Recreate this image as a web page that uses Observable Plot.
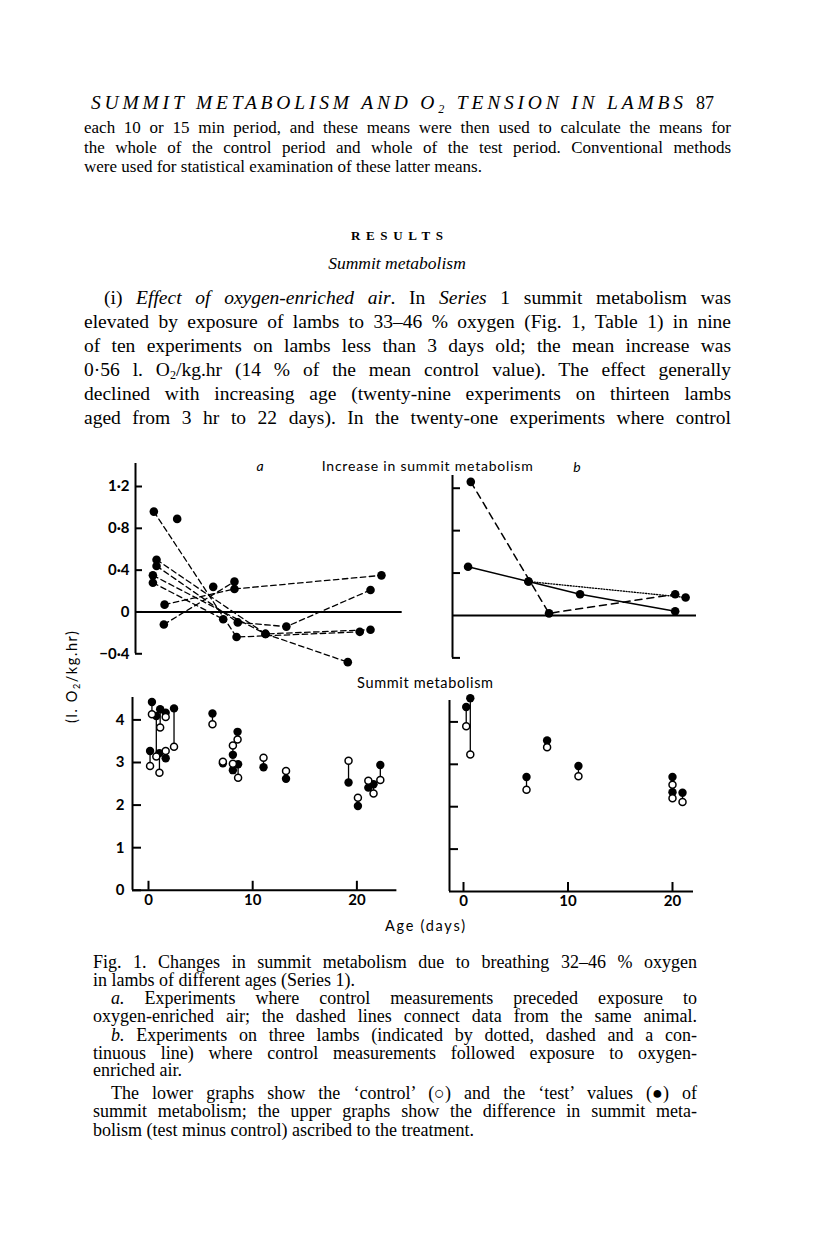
<!DOCTYPE html>
<html><head><meta charset="utf-8">
<script src="https://cdn.jsdelivr.net/npm/d3@7"></script>
<script src="https://cdn.jsdelivr.net/npm/@observablehq/plot@0.6"></script>
<style>
html,body{margin:0;padding:0;background:#fff;}
#page{position:relative;width:816px;height:1255px;overflow:hidden;background:#fff;}
</style></head><body><div id="page"></div>
<script>
// ---------------- DATA ----------------
const ageTicks = [0, 10, 20];
const upperTicks = [1.2, 0.8, 0.4, 0, -0.4];
const upperTickLabels = ["1·2", "0·8", "0·4", "0", "−0·4"];
const lowerTicks = [0, 1, 2, 3, 4];
const lowerTickLabels = ["0", "1", "2", "3", "4"];

// (a) upper: increase in summit metabolism (test − control); dashed lines join one lamb
const incA_lamb = ["A1","A1","A1","A2","A2","A2","A3","A3","A3","A3","A4","A4","A4","A5","A5","A6","A6","A6","A7","A7","A8","A9"];
const incA_age  = [0.48, 8.42, 20.25, 0.74, 11.2, 21.28, 0.74, 8.54, 13.2, 21.28, 0.39, 11.2, 19.1, 0.39, 7.14, 1.51, 8.22, 22.33, 1.44, 8.22, 2.72, 6.18];
const incA_diff = [0.96, -0.24, -0.19, 0.50, -0.21, -0.17, 0.44, -0.10, -0.14, 0.21, 0.35, -0.21, -0.48, 0.28, -0.07, 0.07, 0.22, 0.35, -0.12, 0.29, 0.89, 0.24];

// (b) upper: three lambs (dashed, continuous, dotted)
const incB_lamb = ["dashed","dashed","dashed","continuous","continuous","continuous","continuous","dotted","dotted"];
const incB_age  = [0.64, 8.13, 20.2, 0.38, 6.16, 11.1, 20.2, 6.16, 21.2];
const incB_diff = [1.26, 0.02, 0.20, 0.46, 0.32, 0.20, 0.04, 0.32, 0.17];

// (a) lower: summit metabolism, test (filled) and control (open)
const smA_age     = [0.33, 0.75, 1.12, 1.05, 0.15, 1.65, 1.65, 2.45, 6.14, 7.14, 8.1, 8.1, 8.55, 8.6, 11.04, 13.2, 19.2, 20.1, 21.1, 21.6, 22.25];
const smA_test    = [4.42, 4.09, 4.25, 3.22, 3.27, 4.17, 3.10, 4.27, 4.15, 2.98, 3.18, 2.82, 3.72, 2.96, 2.89, 2.62, 2.53, 1.98, 2.41, 2.49, 2.94];
const smA_control = [4.13, 3.14, 3.82, 2.76, 2.92, 4.07, 3.27, 3.37, 3.90, 3.02, 3.40, 2.97, 3.54, 2.64, 3.11, 2.80, 3.04, 2.17, 2.57, 2.27, 2.59];

// (b) lower
const smB_age     = [0.26, 0.65, 6.03, 8.0, 11.0, 20.0, 20.0, 20.96];
const smB_test    = [4.35, 4.56, 2.70, 3.56, 2.96, 2.70, 2.34, 2.33];
const smB_control = [3.90, 3.23, 2.40, 3.40, 2.72, 2.52, 2.20, 2.11];

// ---------------- TABLES ----------------
const incA = incA_age.map((a, i) => ({age: a, diff: incA_diff[i], lamb: incA_lamb[i]}));
const incB = incB_age.map((a, i) => ({age: a, diff: incB_diff[i], lamb: incB_lamb[i]}));
const smA = smA_age.map((a, i) => ({age: a, test: smA_test[i], control: smA_control[i]}));
const smB = smB_age.map((a, i) => ({age: a, test: smB_test[i], control: smB_control[i]}));

const SERIF = "'Liberation Serif', 'Times New Roman', serif";
const SANS = "Lato, 'Open Sans', sans-serif";
const page = document.getElementById("page");

function panel({fx, fy, xDomain, yDomain, xAxis, marks}) {
  const ml = 50, mr = 12, mt = 12, mb = 30;
  const svg = Plot.plot({
    width: ml + (fx[1] - fx[0]) + mr,
    height: mt + (fy[1] - fy[0]) + mb,
    marginLeft: ml, marginRight: mr, marginTop: mt, marginBottom: mb,
    x: {domain: xDomain, label: null, ...(xAxis ? {} : {axis: null})},
    y: {domain: yDomain, label: null},
    style: {fontFamily: SANS, fontSize: "14px", color: "#000", background: "transparent", overflow: "visible"},
    marks
  });
  svg.style.position = "absolute";
  svg.style.left = (fx[0] - ml) + "px";
  svg.style.top = (fy[0] - mt) + "px";
  page.appendChild(svg);
}

const upFmt = d => upperTickLabels[upperTicks.indexOf(d)];
const loFmt = d => lowerTickLabels[lowerTicks.indexOf(d)];
const tickFont = {fontSize: 15, fontWeight: 700};

// upper a
const dA = [-1.28, 24.32];
panel({
  fx: [135, 401.7], fy: [463, 653.3], xDomain: dA, yDomain: [-0.4, 1.42],
  marks: [
    Plot.axisY(upperTicks, {tickSize: -7, tickPadding: 13, tickFormat: upFmt, ...tickFont, label: null, strokeWidth: 2}),
    Plot.ruleX([dA[0]], {stroke: "black", strokeWidth: 2}),
    Plot.ruleY([0], {stroke: "black", strokeWidth: 2}),
    Plot.line(incA, {x: "age", y: "diff", z: "lamb", stroke: "black", strokeWidth: 1.3, strokeDasharray: "5.5,3.5"}),
    Plot.dot(incA, {x: "age", y: "diff", r: 4.3, fill: "black"})
  ]
});

// upper b
const dB = [-1.11, 22.24];
panel({
  fx: [451.7, 695.7], fy: [475, 657.4], xDomain: dB, yDomain: [-0.4, 1.32],
  marks: [
    Plot.axisY(upperTicks.filter(d => d !== 0), {tickSize: -8, tickFormat: () => "", label: null, strokeWidth: 2}),
    Plot.ruleX([dB[0]], {stroke: "black", strokeWidth: 2}),
    Plot.ruleY([0], {stroke: "black", strokeWidth: 2}),
    Plot.line(incB.filter(d => d.lamb === "dashed"), {x: "age", y: "diff", stroke: "black", strokeWidth: 1.5, strokeDasharray: "7,5"}),
    Plot.line(incB.filter(d => d.lamb === "continuous"), {x: "age", y: "diff", stroke: "black", strokeWidth: 1.4}),
    Plot.line(incB.filter(d => d.lamb === "dotted"), {x: "age", y: "diff", stroke: "black", strokeWidth: 1.3, strokeDasharray: "1.2,1.6"}),
    Plot.dot(incB, {x: "age", y: "diff", r: 4.3, fill: "black"})
  ]
});

// lower a
const dLA = [-1.535, 23.84];
panel({
  fx: [132.3, 396.7], fy: [696.5, 889.3], xDomain: dLA, yDomain: [0, 4.526], xAxis: true,
  marks: [
    Plot.axisY(lowerTicks, {tickSize: -9, tickPadding: 17, tickFormat: loFmt, ...tickFont, label: null, strokeWidth: 2}),
    Plot.axisX(ageTicks, {tickSize: -9, tickPadding: 13, ...tickFont, label: null, strokeWidth: 2}),
    Plot.ruleX([dLA[0]], {stroke: "black", strokeWidth: 2}),
    Plot.ruleY([0], {stroke: "black", strokeWidth: 2}),
    Plot.link(smA, {x1: "age", x2: "age", y1: "control", y2: "test", stroke: "black", strokeWidth: 1.3}),
    Plot.dot(smA, {x: "age", y: "test", r: 4.2, fill: "black"}),
    Plot.dot(smA, {x: "age", y: "control", r: 3.5, fill: "white", stroke: "black", strokeWidth: 1.5})
  ]
});

// lower b
const dLB = [-1.34, 22.01];
panel({
  fx: [449.3, 693.3], fy: [700, 891], xDomain: dLB, yDomain: [0, 4.505], xAxis: true,
  marks: [
    Plot.axisY(lowerTicks.filter(d => d > 0), {tickSize: -9, tickFormat: () => "", label: null, strokeWidth: 2}),
    Plot.axisX(ageTicks, {tickSize: -9, tickPadding: 13, ...tickFont, label: null, strokeWidth: 2}),
    Plot.ruleX([dLB[0]], {stroke: "black", strokeWidth: 2}),
    Plot.ruleY([0], {stroke: "black", strokeWidth: 2}),
    Plot.link(smB, {x1: "age", x2: "age", y1: "control", y2: "test", stroke: "black", strokeWidth: 1.3}),
    Plot.dot(smB, {x: "age", y: "test", r: 4.2, fill: "black"}),
    Plot.dot(smB, {x: "age", y: "control", r: 3.5, fill: "white", stroke: "black", strokeWidth: 1.5})
  ]
});

// ---------------- TEXT LAYER ----------------
const NS = "http://www.w3.org/2000/svg";
const layer = document.createElementNS(NS, "svg");
layer.setAttribute("width", 816); layer.setAttribute("height", 1255);
layer.style.position = "absolute"; layer.style.left = "0"; layer.style.top = "0";
page.appendChild(layer);

function txt({x, y, parts, size, family = SERIF, width = null, mode = null, anchor = "start", weight = "normal", italic = false, rotate = null}) {
  const t = document.createElementNS(NS, "text");
  t.setAttribute("x", x); t.setAttribute("y", y);
  t.setAttribute("font-family", family); t.setAttribute("font-size", size);
  t.setAttribute("font-weight", weight); t.setAttribute("text-anchor", anchor);
  t.setAttribute("fill", "#000");
  if (italic) t.setAttribute("font-style", "italic");
  if (rotate !== null) t.setAttribute("transform", `rotate(${rotate} ${x} ${y})`);
  let shift = 0;
  for (let p of parts) {
    if (typeof p === "string") p = [p, {}];
    const ts = document.createElementNS(NS, "tspan");
    ts.textContent = p[0];
    const o = p[1];
    if (o.i) ts.setAttribute("font-style", "italic");
    const want = o.sub ? size * 0.18 : 0;
    if (want !== shift) { ts.setAttribute("dy", want - shift); shift = want; }
    if (o.sub) ts.setAttribute("font-size", size * 0.62);
    t.appendChild(ts);
  }
  layer.appendChild(t);
  if (width && mode === "justify") {
    const nat = t.getComputedTextLength();
    const n = (t.textContent.match(/ /g) || []).length;
    if (n) t.style.wordSpacing = ((width - nat) / n) + "px";
  } else if (width && mode === "stretch") {
    t.setAttribute("textLength", width);
    t.setAttribute("lengthAdjust", "spacing");
  }
  return t;
}

const L = 84, R = 731;

// running head
txt({x: 91, y: 109, size: 19.5, italic: true, width: 592, mode: "stretch",
  parts: ["SUMMIT METABOLISM AND O", ["2", {sub: true}], " TENSION IN LAMBS"]});
txt({x: 714, y: 109, size: 18, anchor: "end", parts: ["87"]});

// paragraph 1
const P1 = ["each 10 or 15 min period, and these means were then used to calculate the means for",
            "the whole of the control period and whole of the test period. Conventional methods",
            "were used for statistical examination of these latter means."];
[133, 152.5, 172].forEach((y, i) => txt({x: L, y, size: 17, parts: [P1[i]], width: i < 2 ? R - L : null, mode: "justify"}));

txt({x: 397, y: 240, size: 13, weight: "bold", anchor: "middle", parts: ["RESULTS"], width: 92, mode: "stretch"});
txt({x: 397, y: 268.5, size: 17.5, italic: true, anchor: "middle", parts: ["Summit metabolism"]});

// paragraph 2
const P2 = [
  ["(i) ", ["Effect of oxygen-enriched air", {i: true}], ". In ", ["Series", {i: true}], " 1 summit metabolism was"],
  ["elevated by exposure of lambs to 33–46 % oxygen (Fig. 1, Table 1) in nine"],
  ["of ten experiments on lambs less than 3 days old; the mean increase was"],
  ["0·56 l. O", ["2", {sub: true}], "/kg.hr (14 % of the mean control value). The effect generally"],
  ["declined with increasing age (twenty-nine experiments on thirteen lambs"],
  ["aged from 3 hr to 22 days). In the twenty-one experiments where control"]
];
[303.5, 327.5, 351.5, 375.5, 399.5, 423.5].forEach((y, i) => txt({x: i === 0 ? L + 20 : L, y, size: 19.5, parts: P2[i], width: i === 0 ? R - L - 20 : R - L, mode: "justify"}));

// chart labels
txt({x: 260, y: 471, size: 14, family: SANS, italic: true, anchor: "middle", parts: ["a"]});
txt({x: 321.7, y: 471, size: 14, family: SANS, parts: ["Increase in summit metabolism"], width: 211, mode: "stretch"});
txt({x: 577, y: 472, size: 14, family: SANS, italic: true, anchor: "middle", parts: ["b"]});
txt({x: 357, y: 688, size: 14.5, family: SANS, parts: ["Summit metabolism"], width: 136, mode: "stretch"});
txt({x: 385, y: 931, size: 14.5, family: SANS, parts: ["Age (days)"], width: 80, mode: "stretch"});
txt({x: 77, y: 723, size: 14.5, family: SANS, rotate: -90, parts: ["(l. O", ["2", {sub: true}], "/kg.hr)"], width: 92, mode: "stretch"});

// caption
const CL = 93, CR = 697, CI = 111;
const CAP = [
  [CL, 967.5, ["Fig. 1. Changes in summit metabolism due to breathing 32–46 % oxygen"], true],
  [CL, 985.5, ["in lambs of different ages (Series 1)."], false],
  [CI, 1003.5, [["a.", {i: true}], " Experiments where control measurements preceded exposure to"], true],
  [CL, 1022, ["oxygen-enriched air; the dashed lines connect data from the same animal."], true],
  [CI, 1040.5, [["b.", {i: true}], " Experiments on three lambs (indicated by dotted, dashed and a con-"], true],
  [CL, 1058.5, ["tinuous line) where control measurements followed exposure to oxygen-"], true],
  [CL, 1076, ["enriched air."], false],
  [CI, 1099, ["The lower graphs show the ‘control’ (○) and the ‘test’ values (●) of"], true],
  [CL, 1117, ["summit metabolism; the upper graphs show the difference in summit meta-"], true],
  [CL, 1135.5, ["bolism (test minus control) ascribed to the treatment."], false]
];
CAP.forEach(([x, y, parts, j]) => txt({x, y, size: 18, parts, width: j ? CR - x : null, mode: "justify"}));
</script></body></html>
